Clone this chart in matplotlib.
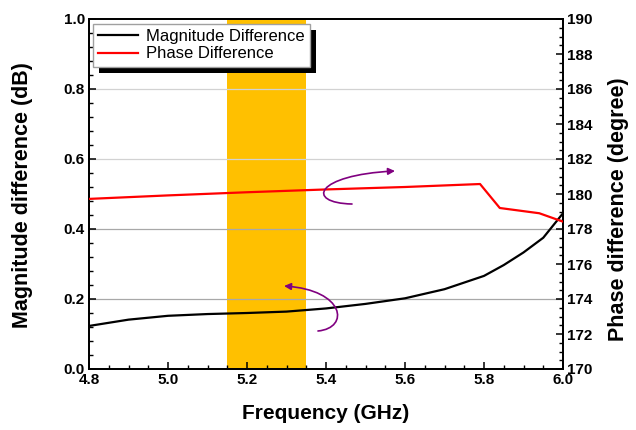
import matplotlib
matplotlib.use("Agg")
import matplotlib.pyplot as plt
from matplotlib.path import Path
from matplotlib.patches import FancyArrowPatch, Rectangle
from matplotlib.ticker import MultipleLocator

plt.rcParams['font.family'] = ['Liberation Sans', 'DejaVu Sans']

# Data
freq_mag = [4.80, 4.90, 5.00, 5.10, 5.20, 5.30, 5.40, 5.50, 5.60, 5.70, 5.80, 5.85, 5.90, 5.95, 6.00]
mag_diff = [0.123, 0.141, 0.152, 0.157, 0.160, 0.164, 0.173, 0.186, 0.202, 0.228, 0.266, 0.297, 0.333, 0.375, 0.445]
freq_phase = [4.80, 5.00, 5.20, 5.40, 5.60, 5.79, 5.84, 5.94, 6.00]
phase_diff = [179.72, 179.92, 180.10, 180.26, 180.40, 180.57, 179.20, 178.90, 178.42]
band = [5.15, 5.35]
xticks = [4.8, 5.0, 5.2, 5.4, 5.6, 5.8, 6.0]
yticks_left = [0.0, 0.2, 0.4, 0.6, 0.8, 1.0]
yticks_right = list(range(170, 191, 2))

W, H = 636, 430
fig = plt.figure(figsize=(W / 100, H / 100), dpi=100)
ax = fig.add_axes([89 / W, 1 - 369 / H, (563 - 89) / W, (369 - 19) / H])
ax2 = ax.twinx()

ax.axvspan(band[0], band[1], color='#FFC000', zorder=0, lw=0)
for y, c in zip([0.2, 0.4, 0.6, 0.8], ['#a8a8a8', '#a8a8a8', '#d2d2d2', '#d2d2d2']):
    ax.axhline(y, color=c, lw=0.9, zorder=0.5)

l1, = ax.plot(freq_mag, mag_diff, color='black', lw=1.6, zorder=3, label='Magnitude Difference')
l2, = ax2.plot(freq_phase, phase_diff, color='red', lw=1.6, zorder=3, label='Phase Difference')

ax.set_xlim(4.8, 6.0)
ax.set_ylim(0, 1.0)
ax2.set_ylim(170, 190)
ax.set_xticks(xticks)
ax.set_xticklabels([f"{v:.1f}" for v in xticks])
ax.set_yticks(yticks_left)
ax.set_yticklabels([f"{v:.1f}" for v in yticks_left])
ax2.set_yticks(yticks_right)
ax.xaxis.set_minor_locator(MultipleLocator(0.05))
ax.yaxis.set_minor_locator(MultipleLocator(0.04))
ax2.yaxis.set_minor_locator(MultipleLocator(0.5))

for a in (ax, ax2):
    for lab in a.get_xticklabels() + a.get_yticklabels():
        lab.set_fontweight('bold')
        lab.set_fontsize(11)
    for s in a.spines.values():
        s.set_linewidth(1.3)

ax.tick_params(axis='both', which='major', direction='in', length=5, width=1.1, pad=3, top=False, right=False)
ax.tick_params(axis='both', which='minor', direction='in', length=3, width=1.0, top=False, right=False)
ax2.tick_params(axis='y', which='major', direction='in', length=5, width=1.1, pad=3)
ax2.tick_params(axis='y', which='minor', direction='in', length=3, width=1.0)

ax.set_xlabel('Frequency (GHz)', fontsize=15, fontweight='bold', labelpad=12)
ax.set_ylabel('Magnitude difference (dB)', fontsize=15.5, fontweight='bold')
ax2.set_ylabel('Phase difference (degree)', fontsize=15.5, fontweight='bold')
ax.yaxis.set_label_coords(-0.118, 0.497)
ax2.yaxis.set_label_coords(1.095, 0.457)

# Curved arrows
arrow_color = '#800080'
p1 = Path([(5.4658, 0.4714), (5.3468, 0.4743), (5.3722, 0.5543), (5.5747, 0.5657)],
          [Path.MOVETO, Path.CURVE4, Path.CURVE4, Path.CURVE4])
p2 = Path([(5.3797, 0.1086), (5.4608, 0.1171), (5.4481, 0.2257), (5.2937, 0.2371)],
          [Path.MOVETO, Path.CURVE4, Path.CURVE4, Path.CURVE4])
for p in (p1, p2):
    arr = FancyArrowPatch(path=ax.transData.transform_path(p), transform=None,
                          arrowstyle='-|>', mutation_scale=10, color=arrow_color, lw=1.2, zorder=6)
    ax2.add_artist(arr)

leg = ax2.legend(handles=[l1, l2], loc='upper left', bbox_to_anchor=(93 / W, 1 - 24 / H),
                 bbox_transform=fig.transFigure, fancybox=False, framealpha=1,
                 edgecolor='#a0a0a0', fontsize=12, handlelength=2.4, borderpad=0.3,
                 labelspacing=0.15, handletextpad=0.5, borderaxespad=0)
leg.get_frame().set_linewidth(1.0)
leg.set_zorder(10)

fig.canvas.draw()
bb = leg.get_window_extent()
shadow = Rectangle((bb.x0 + 6, bb.y0 - 6), bb.width, bb.height, transform=None,
                   facecolor='black', edgecolor='none', zorder=9.5, clip_on=False)
ax2.add_artist(shadow)

fig.savefig('out.png', dpi=100)
